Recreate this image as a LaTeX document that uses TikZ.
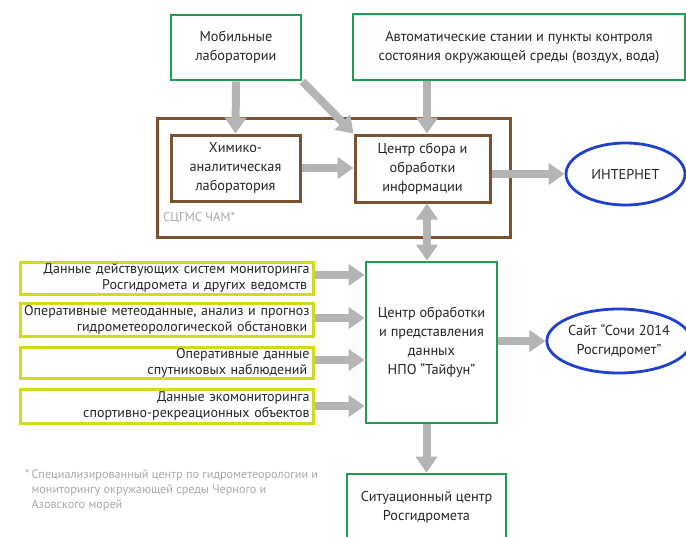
\documentclass[tikz,border=0pt]{standalone}
\usepackage{fontspec}
\setmainfont{PT Sans}
\usetikzlibrary{arrows.meta,shapes.geometric,calc}
\definecolor{grn}{HTML}{1E9E55}
\definecolor{brn}{HTML}{7A5230}
\definecolor{blu}{HTML}{2040D0}
\definecolor{ylw}{HTML}{D2DA1E}
\definecolor{arr}{HTML}{B4B4B4}
\definecolor{txt}{HTML}{262626}
\definecolor{ltxt}{HTML}{A8A8A8}
\tikzset{
  box/.style={draw, rectangle, fill=white, text=txt, align=center, inner sep=2pt, font=\fontsize{14.3}{19}\selectfont},
  gbox/.style={box, draw=grn, line width=2.8pt},
  bbox/.style={box, draw=brn, line width=3pt},
  ybox/.style={box, draw=ylw, line width=3pt, align=right, text width=286pt, minimum width=293pt, inner sep=1pt, font=\fontsize{14}{16}\selectfont},
  oval/.style={draw=blu, ellipse, line width=2.8pt, fill=white, text=txt, align=center, inner sep=0pt, font=\fontsize{14.3}{19}\selectfont},
  bigarrow/.style={draw=arr, line width=8pt, -{Triangle[length=16pt,width=21pt]}},
  dblarrow/.style={draw=arr, line width=8pt, {Triangle[length=16pt,width=21pt]}-{Triangle[length=16pt,width=21pt]}}
}
\begin{document}
\begin{tikzpicture}[x=1pt,y=-1pt]
\useasboundingbox (0,0) rectangle (686,536);
% outer brown frame
\node[draw=brn, line width=3pt, rectangle, minimum width=353pt, minimum height=119pt, inner sep=0pt] (scg) at (333.5,177.5) {};
\node[anchor=west, text=ltxt, font=\fontsize{12.7}{14}\selectfont, inner sep=0pt] (scglbl) at (163,218) {СЦГМС ЧАМ*};
% top boxes
\node[gbox, minimum width=130pt, minimum height=65pt] (mob) at (236,47.5) {Мобильные\\лаборатории};
\node[gbox, minimum width=332pt, minimum height=66pt] (auto) at (519,47) {Автоматические стании и пункты контроля\\состояния окружающей среды (воздух, вода)};
% inner boxes
\node[bbox, minimum width=129pt, minimum height=66pt] (chem) at (235.5,168) {Химико-\\аналитическая\\лаборатория};
\node[bbox, minimum width=135pt, minimum height=67pt] (coll) at (422.5,168.5) {Центр сбора и\\обработки\\информации};
\node[oval, minimum width=119pt, minimum height=62pt] (inet) at (625.5,174) {ИНТЕРНЕТ};
% main center
\node[gbox, minimum width=131pt, minimum height=161pt] (typh) at (431.5,342.5) {Центр обработки\\и представления\\данных\\НПО “Тайфун”};
\node[oval, minimum width=134pt, minimum height=64pt] (sochi) at (619,341) {Сайт “Сочи 2014\\Росгидромет”};
\node[gbox, minimum width=159pt, minimum height=66pt] (sit) at (426.5,507) {Ситуационный центр\\Росгидромета};
% yellow boxes
\node[ybox, minimum height=32pt] (y1) at (166.5,278) {Данные действующих систем мониторинга\\Росгидромета и других ведомств\,};
\node[ybox, minimum height=33pt] (y2) at (166.5,319.5) {Оперативные метеоданные, анализ и прогноз\\гидрометеорологической обстановки\,};
\node[ybox, minimum height=31pt] (y3) at (166.5,362.5) {Оперативные данные\\спутниковых наблюдений\,};
\node[ybox, minimum height=34pt] (y4) at (166.5,406) {Данные экомониторинга\\спортивно-рекреационных объектов};
% footnote
\node[anchor=north west, text=ltxt, align=left, inner sep=0pt, font=\fontsize{12.2}{15}\selectfont] (note) at (25,470) {*\,Специализированный центр по гидрометеорологии и\\\phantom{*\,}мониторингу окружающей среды Черного и\\\phantom{*\,}Азовского морей};
% arrows
\draw[bigarrow] (mob.south) -- (chem.north);
\draw[bigarrow] (mob.south east) -- (coll.north west);
\draw[bigarrow] ([xshift=4.5pt]coll.north |- auto.south) -- ([xshift=4.5pt]coll.north);
\draw[bigarrow] (chem.east) -- (coll.west |- chem.east);
\draw[bigarrow] (coll.east |- inet.west) -- (inet.west);
\draw[dblarrow] ([xshift=4.5pt]coll.south) -- ([xshift=4.5pt]coll.south |- typh.north);
\draw[bigarrow] ([yshift=3pt]y1.east) -- ([yshift=3pt]typh.west |- y1.east);
\draw[bigarrow] ([yshift=1.5pt]y2.east) -- ([yshift=1.5pt]typh.west |- y2.east);
\draw[bigarrow] ([yshift=2.5pt]y3.east) -- ([yshift=2.5pt]typh.west |- y3.east);
\draw[bigarrow] (y4.east) -- (typh.west |- y4.east);
\draw[bigarrow] (typh.east |- sochi.west) -- (sochi.west);
\draw[bigarrow] (sit.north |- typh.south) -- (sit.north);
\end{tikzpicture}
\end{document}
